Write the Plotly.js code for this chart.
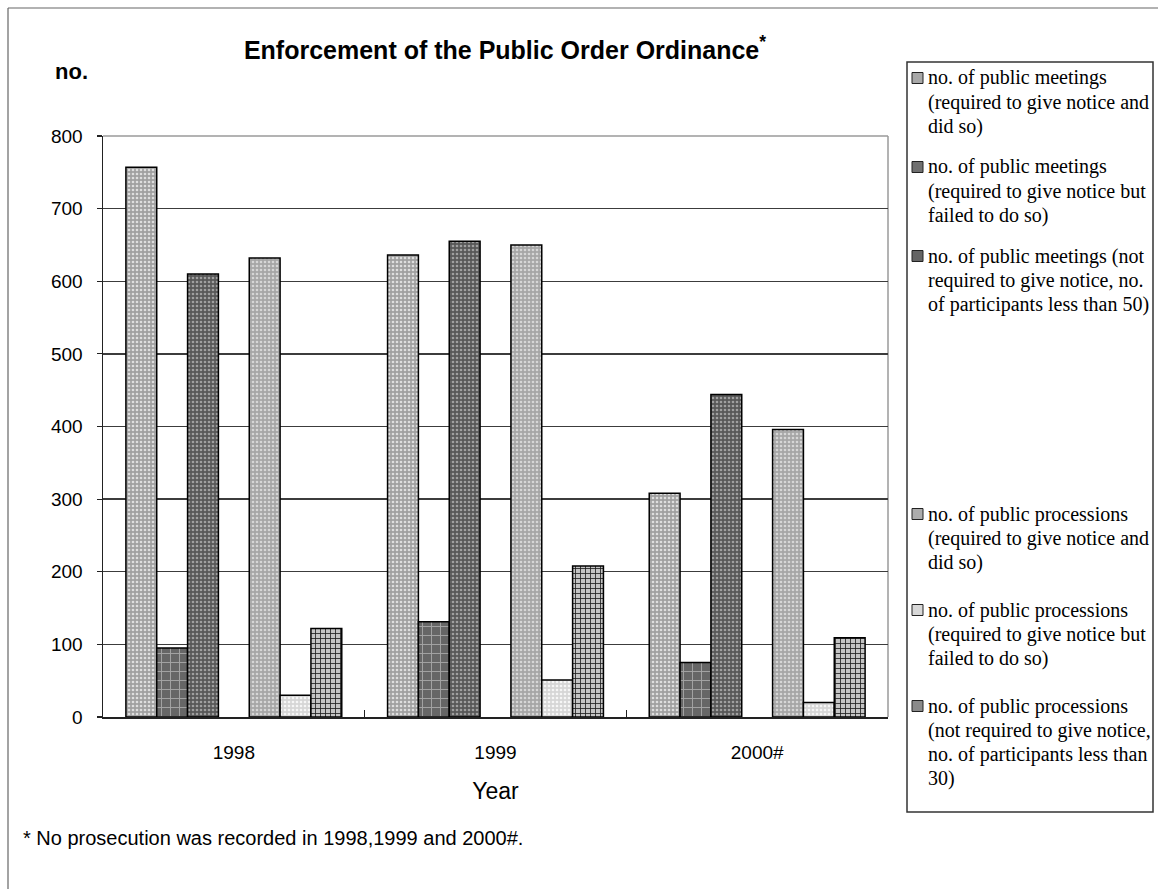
<!DOCTYPE html>
<html><head><meta charset="utf-8">
<script src="https://cdn.plot.ly/plotly-3.0.1.min.js"></script>
<style>html,body{margin:0;padding:0;background:#fff;} #chart{width:1158px;height:889px;}</style>
</head><body><div id="chart"></div>
<script>
// ---- data ----
const years = ['1998', '1999', '2000#'];
const meetingsDid = [757, 636, 308];
const meetingsFailed = [95, 131, 75];
const meetingsNotRequired = [610, 655, 444];
const processionsDid = [632, 650, 396];
const processionsFailed = [30, 51, 20];
const processionsNotRequired = [122, 208, 109];
const yTicks = [0, 100, 200, 300, 400, 500, 600, 700, 800];

const legendMeetingsDid = ['no. of public meetings', '(required to give notice and', 'did so)'];
const legendMeetingsFailed = ['no. of public meetings', '(required to give notice but', 'failed to do so)'];
const legendMeetingsNotRequired = ['no. of public meetings (not', 'required to give notice, no.', 'of participants less than 50)'];
const legendProcessionsDid = ['no. of public processions', '(required to give notice and', 'did so)'];
const legendProcessionsFailed = ['no. of public processions', '(required to give notice but', 'failed to do so)'];
const legendProcessionsNotRequired = ['no. of public processions', '(not required to give notice,', 'no. of participants less than', '30)'];

const titleText = 'Enforcement of the Public Order Ordinance<sup>*</sup>';
const yLabel = 'no.';
const xLabel = 'Year';
const footnote = '* No prosecution was recorded in 1998,1999 and 2000#.';

// ---- geometry helpers (plot area 103..888 x 136..717 px) ----
const L = 103, R = 888, T = 136, B = 717;
const px = x => (x - L) / (R - L);
const py = y => (B - y) / (B - T);

const styles = [
  {bg: '#a0a0a0', fg: '#dedede', shape: '.', size: 4, sol: 0.35, sq: '#a8a8a8'},
  {bg: '#666666', fg: '#a4a4a4', shape: '+', size: 9, sol: 0.2, sq: '#707070'},
  {bg: '#585858', fg: '#a0a0a0', shape: '.', size: 4, sol: 0.35, sq: '#646464'},
  {bg: '#a6a6a6', fg: '#d6d6d6', shape: '.', size: 4, sol: 0.35, sq: '#acacac'},
  {bg: '#d6d6d6', fg: '#f6f6f6', shape: '.', size: 4, sol: 0.35, sq: '#d8d8d8'},
  {bg: '#c4c4c4', fg: '#1e1e1e', shape: '+', size: 5, sol: 0.3, sq: '#8a8a8a'}
];
const seriesValues = [meetingsDid, meetingsFailed, meetingsNotRequired, processionsDid, processionsFailed, processionsNotRequired];
const seriesLegend = [legendMeetingsDid, legendMeetingsFailed, legendMeetingsNotRequired, legendProcessionsDid, legendProcessionsFailed, legendProcessionsNotRequired];

function barTrace(vals, st, name) {
  return {
    type: 'bar', x: years, y: vals, name: name, showlegend: false,
    marker: {
      color: st.bg,
      line: {color: '#000', width: 1.5},
      pattern: {shape: st.shape, fgcolor: st.fg, bgcolor: st.bg, size: st.size, solidity: st.sol, fillmode: 'replace'}
    },
    hoverinfo: 'x+y'
  };
}
const traces = [];
for (let i = 0; i < 3; i++) traces.push(barTrace(seriesValues[i], styles[i], seriesLegend[i].join(' ')));
traces.push({type: 'bar', x: years, y: [0, 0, 0], name: ' ', showlegend: false, hoverinfo: 'skip', marker: {color: 'rgba(0,0,0,0)', line: {width: 0}}});
for (let i = 3; i < 6; i++) traces.push(barTrace(seriesValues[i], styles[i], seriesLegend[i].join(' ')));

// ---- manual legend ----
const legendFirstLine = [78, 167, 256, 514, 610, 706];
const lineStep = 24;
const shapes = [];
const annotations = [];
shapes.push({type: 'rect', xref: 'paper', yref: 'paper', x0: px(907), x1: px(1153), y0: py(812), y1: py(62), line: {color: '#333', width: 1.5}, fillcolor: 'rgba(0,0,0,0)'});
for (let i = 0; i < 6; i++) {
  const c = legendFirstLine[i];
  shapes.push({type: 'rect', xref: 'paper', yref: 'paper', x0: px(912), x1: px(923), y0: py(c + 5.5), y1: py(c - 5.5), line: {color: '#222', width: 1}, fillcolor: styles[i].sq});
  seriesLegend[i].forEach((ln, k) => {
    annotations.push({xref: 'paper', yref: 'paper', x: px(926), y: py(c + k * lineStep), xanchor: 'left', yanchor: 'middle', align: 'left', showarrow: false,
      text: ln, font: {family: 'Liberation Serif, Times New Roman, serif', size: 20, color: '#000'}});
  });
}
// plot frame (light top/right)
shapes.push({type: 'line', xref: 'paper', yref: 'paper', x0: 0, x1: 1, y0: 1, y1: 1, line: {color: '#9a9a9a', width: 1.5}, layer: 'below'});
shapes.push({type: 'line', xref: 'paper', yref: 'paper', x0: 1, x1: 1, y0: 0, y1: 1, line: {color: '#9a9a9a', width: 1.5}, layer: 'below'});
// outer figure frame
shapes.push({type: 'line', xref: 'paper', yref: 'paper', x0: px(8), x1: px(8), y0: py(8), y1: py(889), line: {color: '#666', width: 1.2}});
shapes.push({type: 'line', xref: 'paper', yref: 'paper', x0: px(8), x1: px(1158), y0: py(8), y1: py(8), line: {color: '#666', width: 1.2}});

annotations.push({xref: 'paper', yref: 'paper', x: px(53), y: py(72), xanchor: 'left', yanchor: 'middle', showarrow: false, text: '<b>' + yLabel + '</b>', font: {family: 'Liberation Sans, Arial, sans-serif', size: 22, color: '#000'}});
annotations.push({xref: 'paper', yref: 'paper', x: px(21), y: py(838), xanchor: 'left', yanchor: 'middle', showarrow: false, text: footnote, font: {family: 'Liberation Sans, Arial, sans-serif', size: 20, color: '#000'}});

const layout = {
  width: 1158, height: 889,
  margin: {l: L, r: 1158 - R, t: T, b: 889 - B, pad: 0},
  paper_bgcolor: '#fff', plot_bgcolor: '#fff',
  barmode: 'group', bargap: 0.175, bargroupgap: 0,
  title: {text: titleText, x: px(505), xref: 'paper', y: 1 - 50 / 889, yref: 'container', xanchor: 'center', yanchor: 'middle',
    font: {family: 'Liberation Sans, Arial, sans-serif', size: 25, weight: 'bold', color: '#000'}},
  font: {family: 'Liberation Sans, Arial, sans-serif', color: '#000'},
  xaxis: {type: 'category', categoryarray: years, showline: true, linecolor: '#222', linewidth: 1.5,
    ticks: 'inside', tickson: 'boundaries', ticklen: 7, tickcolor: '#222', tickwidth: 1,
    tickfont: {size: 19, family: 'Liberation Sans, Arial, sans-serif'}, ticklabelstandoff: 18,
    title: {text: xLabel, font: {size: 23, family: 'Liberation Sans, Arial, sans-serif'}, standoff: 20},
    showgrid: false, zeroline: false, fixedrange: true},
  yaxis: {range: [0, 800], tickvals: yTicks, showline: true, linecolor: '#222', linewidth: 1.5,
    ticks: 'outside', ticklen: 5, tickcolor: '#222', tickwidth: 1.2,
    tickfont: {size: 19, family: 'Liberation Sans, Arial, sans-serif'}, ticklabelstandoff: 10,
    showgrid: true, gridcolor: '#3c3c3c', gridwidth: 1.4, zeroline: false, fixedrange: true},
  shapes: shapes, annotations: annotations, showlegend: false
};
Plotly.newPlot('chart', traces, layout, {displayModeBar: false, staticPlot: true});
</script></body></html>
